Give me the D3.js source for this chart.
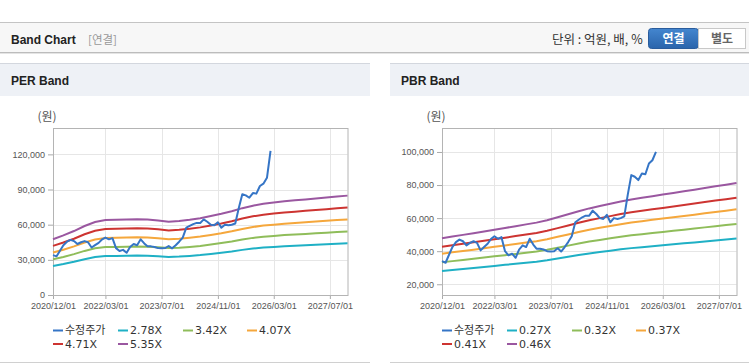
<!DOCTYPE html>
<html>
<head>
<meta charset="utf-8">
<script src="https://cdn.jsdelivr.net/npm/d3@7"></script>
<style>
body { margin: 0; background: #fff; }
svg { display: block; font-family: "Liberation Sans", Arial, "Noto Sans CJK KR", sans-serif; }
</style>
</head>
<body>
<svg id="chart" width="749" height="364"></svg>
<script>
// monthly adjusted close (수정주가)
var priceMonths = [
  "2020-12",
  "2021-01","2021-02","2021-03","2021-04","2021-05","2021-06","2021-07","2021-08","2021-09","2021-10","2021-11","2021-12",
  "2022-01","2022-02","2022-03","2022-04","2022-05","2022-06","2022-07","2022-08","2022-09","2022-10","2022-11","2022-12",
  "2023-01","2023-02","2023-03","2023-04","2023-05","2023-06","2023-07","2023-08","2023-09","2023-10","2023-11","2023-12",
  "2024-01","2024-02","2024-03","2024-04","2024-05","2024-06","2024-07","2024-08","2024-09","2024-10","2024-11","2024-12",
  "2025-01","2025-02","2025-03","2025-04","2025-05","2025-06","2025-07","2025-08","2025-09","2025-10","2025-11","2025-12",
  "2026-01","2026-02"
];
var prices = [
  34000,
  33000, 38000, 42500, 45500, 47000, 46000, 43500, 45000, 46000, 45000, 40500, 42500,
  44500, 47500, 49000, 47500, 48500, 40000, 37500, 38500, 36000, 41000, 43500, 42500,
  47500, 44000, 41500, 41500, 41000, 40000, 39800, 40000, 41800, 39800, 42500, 45500,
  49000, 57500, 59000, 60500, 61500, 61500, 64500, 62500, 60000, 59500, 62000, 57500,
  60000, 59500, 60000, 61000, 74000, 86000, 85000, 83000, 87000, 86500, 93000, 95000,
  100000, 123000
];
// the PBR chart has no price for the last month
var pbrPriceCount = 62;

// quarterly EPS / BPS behind the bands
var bandQuarters = [
  "2020-12","2021-03","2021-06","2021-09","2021-12","2022-03","2022-06","2022-09","2022-12",
  "2023-03","2023-06","2023-09","2023-12","2024-03","2024-06","2024-09","2024-12",
  "2025-03","2025-06","2025-09","2025-12","2026-03","2026-06","2026-09","2026-12",
  "2027-03","2027-06","2027-09","2027-12"
];
var eps = [
  8900, 9500, 10200, 11000, 11650, 11950, 12000, 12050, 12100,
  12050, 11900, 11700, 11800, 12000, 12250, 12600, 12950,
  13350, 13850, 14250, 14550, 14750, 14950, 15100, 15250,
  15400, 15550, 15700, 15850
];
var bps = [
  104000, 106200, 108400, 110600, 112900, 115200, 117500, 119800, 122200,
  124500, 127700, 131600, 135500, 139400, 143200, 146300, 149300,
  152300, 155000, 157200, 159300, 161400, 163500, 165700, 167800,
  170000, 172200, 174300, 176500
];
var perMultiples = [2.78, 3.42, 4.07, 4.71, 5.35];
var pbrMultiples = [0.27, 0.32, 0.37, 0.41, 0.46];

var xTickLabels = ["2020/12/01", "2022/03/01", "2023/07/01", "2024/11/01", "2026/03/01", "2027/07/01"];
var perYTicks = [0, 30000, 60000, 90000, 120000];
var pbrYTicks = [20000, 40000, 60000, 80000, 100000];

var priceColor = "#3575c6";
var bandColors = ["#1fb0c5", "#8fbd5a", "#f5a73c", "#cd3431", "#9a57a0"];

var parseMonth = d3.timeParse("%Y-%m");
var parseTick = d3.timeParse("%Y/%m/%d");
var svg = d3.select("#chart");

// ---- page header ----
svg.append("line").attr("x1", 0).attr("x2", 749).attr("y1", 22.5).attr("y2", 22.5).attr("stroke", "#c4c4c4");
svg.append("rect").attr("x", 0).attr("y", 23).attr("width", 749).attr("height", 29).attr("fill", "#f7f7f7");
svg.append("line").attr("x1", 0).attr("x2", 749).attr("y1", 52.5).attr("y2", 52.5).attr("stroke", "#bcbcbc");
svg.append("line").attr("x1", 0).attr("x2", 749).attr("y1", 53.5).attr("y2", 53.5).attr("stroke", "#e4e4e4");

svg.append("text").attr("x", 11).attr("y", 44).attr("font-size", 12).attr("font-weight", "bold")
  .attr("fill", "#222").text("Band Chart");
svg.append("text").attr("x", 88).attr("y", 44).attr("font-size", 11.5).attr("fill", "#999")
  .style("font-family", "'Noto Sans CJK KR'").text("[연결]");
svg.append("text").attr("x", 552).attr("y", 44).attr("font-size", 12.5).attr("fill", "#333")
  .style("font-family", "'Noto Sans CJK KR'").text("단위 : 억원, 배, %");

var grad = svg.append("defs").append("linearGradient").attr("id", "btn").attr("x1", 0).attr("x2", 0).attr("y1", 0).attr("y2", 1);
grad.append("stop").attr("offset", "0%").attr("stop-color", "#4486cf");
grad.append("stop").attr("offset", "100%").attr("stop-color", "#2a64ab");
svg.append("rect").attr("x", 648.5).attr("y", 28.5).attr("width", 50).attr("height", 20).attr("rx", 3)
  .attr("fill", "url(#btn)").attr("stroke", "#2a5c9c");
svg.append("rect").attr("x", 698.5).attr("y", 28.5).attr("width", 47).attr("height", 20)
  .attr("fill", "#fff").attr("stroke", "#c8c8c8");
svg.append("text").attr("x", 673.5).attr("y", 43).attr("text-anchor", "middle").attr("font-size", 12)
  .attr("font-weight", "bold").attr("fill", "#fff").style("font-family", "'Noto Sans CJK KR'").text("연결");
svg.append("text").attr("x", 722).attr("y", 43).attr("text-anchor", "middle").attr("font-size", 12)
  .attr("font-weight", "bold").attr("fill", "#666").style("font-family", "'Noto Sans CJK KR'").text("별도");

// ---- one band chart panel ----
var drawBand = (cfg) => {
  var g = svg.append("g");

  // panel header
  g.append("rect").attr("x", cfg.panelX).attr("y", 64).attr("width", cfg.panelW).attr("height", 32).attr("fill", "#eef1f6");
  g.append("line").attr("x1", cfg.panelX).attr("x2", cfg.panelX + cfg.panelW).attr("y1", 63.5).attr("y2", 63.5).attr("stroke", "#d3d7de");
  g.append("line").attr("x1", cfg.panelX).attr("x2", cfg.panelX + cfg.panelW).attr("y1", 362.5).attr("y2", 362.5).attr("stroke", "#d0d0d0");
  g.append("text").attr("x", cfg.panelX + 11).attr("y", 85).attr("font-size", 12).attr("font-weight", "bold")
    .attr("fill", "#222").text(cfg.title);

  var left = cfg.plotX, right = cfg.plotX + 294.5, top = 128, bottom = 295;

  var x = d3.scaleTime()
    .domain([parseMonth("2020-12"), parseMonth("2027-12")])
    .range([left, right]);
  var y = d3.scaleLinear()
    .domain(cfg.yDomain)
    .range([bottom, top]);

  var xTicks = xTickLabels.map(s => parseTick(s));

  // grid
  g.append("g").selectAll("line").data(cfg.yTicks).enter().append("line")
    .attr("x1", left).attr("x2", right)
    .attr("y1", d => Math.round(y(d)) + 0.5).attr("y2", d => Math.round(y(d)) + 0.5)
    .attr("stroke", "#e6e6e6");
  g.append("g").selectAll("line").data(xTicks).enter().append("line")
    .attr("x1", d => Math.round(x(d)) + 0.5).attr("x2", d => Math.round(x(d)) + 0.5)
    .attr("y1", top).attr("y2", bottom)
    .attr("stroke", "#e6e6e6");

  // axes
  var yAxis = g.append("g")
    .attr("transform", "translate(" + left + ",0)")
    .call(d3.axisLeft(y).tickValues(cfg.yTicks).tickSize(5).tickPadding(3).tickFormat(d3.format(",")));
  var xAxis = g.append("g")
    .attr("transform", "translate(0," + bottom + ")")
    .call(d3.axisBottom(x).tickValues(xTicks).tickSize(4).tickPadding(4).tickFormat((d, i) => xTickLabels[i]));
  [yAxis, xAxis].forEach(a => {
    a.select(".domain").remove();
    a.selectAll("line").attr("stroke", "#aaa");
    a.selectAll("text").attr("fill", "#555").style("font-family", "'Liberation Sans', Arial").attr("font-size", 9);
  });

  // plot frame
  g.append("rect").attr("x", left + 0.5).attr("y", top + 0.5).attr("width", right - left).attr("height", bottom - top)
    .attr("fill", "none").attr("stroke", "#b4b4b4");

  g.append("text").attr("x", left - 6).attr("y", 121).attr("text-anchor", "middle").attr("font-size", 12)
    .attr("fill", "#555").style("font-family", "'Noto Sans CJK KR'").text("(원)");

  // bands
  var line = d3.line().x(d => x(d.date)).y(d => y(d.value));
  cfg.multiples.forEach((m, k) => {
    var pts = bandQuarters.map((q, i) => ({ date: parseMonth(q), value: cfg.base[i] * m }));
    g.append("path").datum(pts).attr("d", line)
      .attr("fill", "none").attr("stroke", bandColors[k]).attr("stroke-width", 2);
  });

  // price
  var pricePts = priceMonths.slice(0, cfg.priceCount).map((mo, i) => ({ date: parseMonth(mo), value: prices[i] }));
  g.append("path").datum(pricePts).attr("d", line)
    .attr("fill", "none").attr("stroke", priceColor).attr("stroke-width", 2).attr("stroke-linejoin", "round");

  // legend
  var names = ["수정주가"].concat(cfg.multiples.map(m => m.toFixed(2) + "X"));
  var colors = [priceColor].concat(bandColors);
  var cols = [0, 65, 130, 194];
  names.forEach((n, i) => {
    var lx = left + cols[i % 4];
    var ly = i < 4 ? 330.5 : 344;
    g.append("line").attr("x1", lx).attr("x2", lx + 10).attr("y1", ly).attr("y2", ly)
      .attr("stroke", colors[i]).attr("stroke-width", 2);
    g.append("text").attr("x", lx + 12).attr("y", ly).attr("dy", "0.36em").attr("font-size", 11)
      .attr("fill", "#333").style("font-family", "'DejaVu Sans', 'Noto Sans CJK KR'").text(n);
  });
};

drawBand({
  title: "PER Band", panelX: 0, panelW: 370, plotX: 53,
  yDomain: [0, 142500], yTicks: perYTicks,
  base: eps, multiples: perMultiples, priceCount: prices.length
});
drawBand({
  title: "PBR Band", panelX: 390, panelW: 359, plotX: 442,
  yDomain: [13500, 114500], yTicks: pbrYTicks,
  base: bps, multiples: pbrMultiples, priceCount: pbrPriceCount
});
</script>
</body>
</html>
